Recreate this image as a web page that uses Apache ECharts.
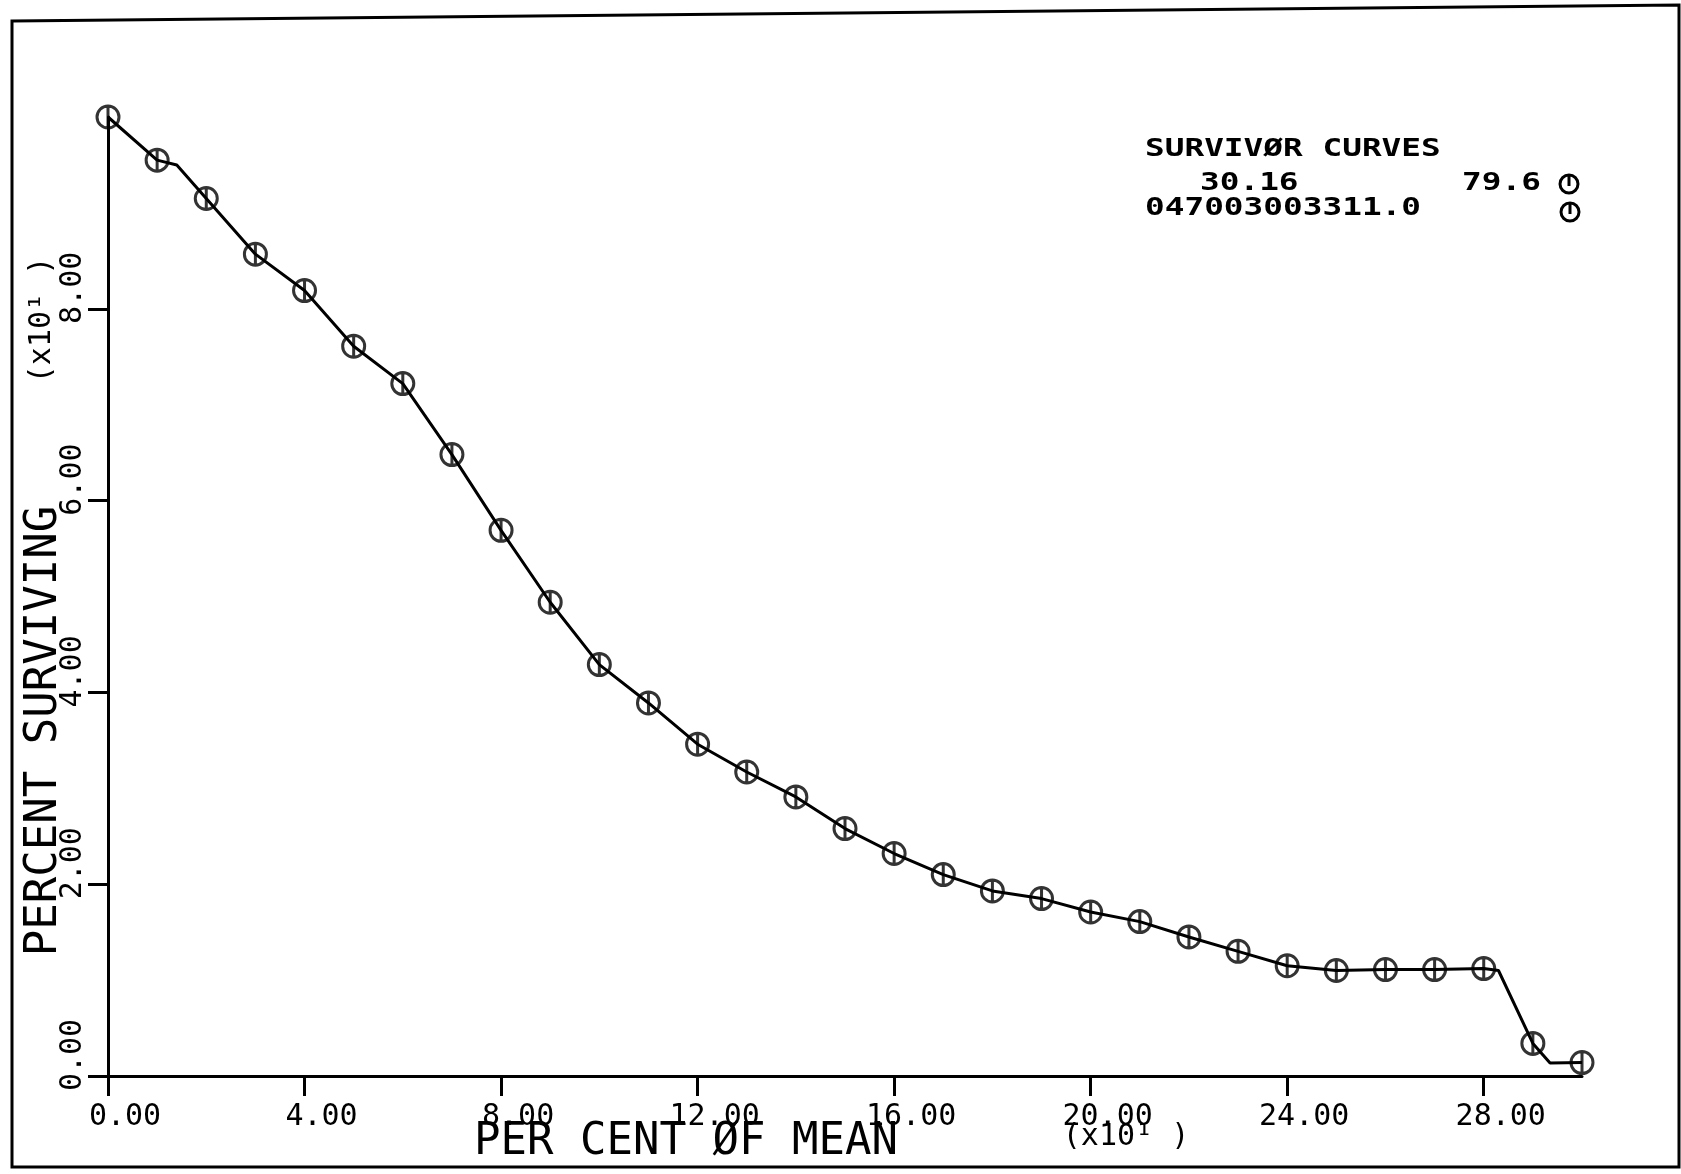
<!DOCTYPE html>
<html>
<head>
<meta charset="utf-8">
<title>SURVIVOR CURVES</title>
<style>
html, body { margin: 0; padding: 0; background: #fff; }
#main { width: 1681px; height: 1174px; }
</style>
<script src="https://cdn.jsdelivr.net/npm/echarts@6/dist/echarts.min.js"></script>
</head>
<body>
<div id="main"></div>
<script>
// data
// x = per cent of mean (axis labels are x10^1), y = percent surviving
var percentOfMean = [0, 10, 20, 30, 40, 50, 60, 70, 80, 90, 100, 110, 120, 130, 140, 150,
    160, 170, 180, 190, 200, 210, 220, 230, 240, 250, 260, 270, 280, 290, 300];
var percentSurviving = [100, 95.5, 91.5, 85.7, 81.9, 76.1, 72.2, 64.8, 56.9, 49.4, 42.9, 38.9,
    34.6, 31.7, 29.1, 25.8, 23.2, 21.0, 19.3, 18.5, 17.1, 16.1, 14.5, 13.0, 11.5, 11.0, 11.1,
    11.1, 11.2, 3.4, 1.4];
// bends of the drawn curve that have no marker
var bendX = [14, 283, 293.5];
var bendY = [95.0, 11.0, 1.35];
// ticks
var xTicks = [0, 40, 80, 120, 160, 200, 240, 280];
var yTicks = [0, 20, 40, 60, 80];
// legend block
var legendTitle = 'SURVIVØR CURVES';
var legendRow1 = ['30.16', '79.6'];
var legendRow2 = ['047003003311.0'];

(function() {
    var mono = '"DejaVu Sans Mono", "Liberation Mono", monospace';
    var ink = '#000';

    // markers
    var markers = [];
    for (var i = 0; i < percentOfMean.length; i++) {
        markers.push([percentOfMean[i], percentSurviving[i]]);
    }
    // curve = markers + bends, in x order
    var curve = markers.slice();
    for (var j = 0; j < bendX.length; j++) {
        curve.push([bendX[j], bendY[j]]);
    }
    curve.sort(function(a, b) { return a[0] - b[0]; });

    var tickLabel = function(v) {
        return (v / 10).toFixed(2);
    };

    var ringPath = 'path://M12,1A11,11,0,0,1,12,23A11,11,0,0,1,12,1ZM12,1L12,23';

    // legend symbol: ring with a bar
    var legendMark = function(cx, cy) {
        return {
            type: 'group',
            children: [{
                type: 'circle',
                shape: { cx: cx, cy: cy, r: 9 },
                style: { fill: 'none', stroke: ink, lineWidth: 3 }
            }, {
                type: 'line',
                shape: { x1: cx, y1: cy - 9, x2: cx, y2: cy + 2 },
                style: { stroke: ink, lineWidth: 3 }
            }]
        };
    };

    var legendText = function(text, x, y) {
        return {
            type: 'text',
            x: x,
            y: y,
            scaleX: 1.31,
            style: {
                text: text,
                font: 'bold 25px ' + mono,
                fill: ink,
                textVerticalAlign: 'top'
            }
        };
    };

    var option = {
        animation: false,
        backgroundColor: '#fff',
        grid: {
            left: 108,
            right: 99,
            top: 117,
            bottom: 98,
            containLabel: false
        },
        xAxis: {
            type: 'value',
            min: 0,
            max: 300,
            axisLine: { show: true, onZero: false, lineStyle: { color: ink, width: 3 } },
            axisTick: {
                show: true,
                customValues: xTicks,
                length: 20,
                lineStyle: { color: ink, width: 3 }
            },
            axisLabel: {
                customValues: xTicks,
                formatter: tickLabel,
                margin: 26,
                color: ink,
                fontFamily: mono,
                fontSize: 30,
                padding: [0, 0, 0, 34]
            },
            splitLine: { show: false }
        },
        yAxis: {
            type: 'value',
            min: 0,
            max: 100,
            axisLine: { show: true, onZero: false, lineStyle: { color: ink, width: 3 } },
            axisTick: {
                show: true,
                customValues: yTicks,
                length: 20,
                lineStyle: { color: ink, width: 3 }
            },
            axisLabel: {
                customValues: yTicks,
                formatter: tickLabel,
                rotate: 90,
                margin: 20,
                color: ink,
                fontFamily: mono,
                fontSize: 30,
                padding: [0, 0, 0, 42]
            },
            splitLine: { show: false }
        },
        series: [{
            name: 'curve',
            type: 'line',
            data: curve,
            symbol: 'none',
            lineStyle: { color: ink, width: 3 },
            z: 2
        }, {
            name: 'markers',
            type: 'scatter',
            data: markers,
            symbol: ringPath,
            symbolSize: 22,
            itemStyle: { color: 'rgba(0,0,0,0)', borderColor: ink, borderWidth: 3 },
            z: 3
        }],
        graphic: [
            // frame
            {
                type: 'polygon',
                shape: { points: [[12, 21], [1679, 5], [1679, 1167], [12, 1167]] },
                style: { fill: 'none', stroke: ink, lineWidth: 3 }
            },
            // axis names
            {
                type: 'text',
                x: 686,
                y: 1143,
                style: {
                    text: 'PER CENT ØF MEAN',
                    font: '44px ' + mono,
                    fill: ink,
                    textAlign: 'center',
                    textVerticalAlign: 'middle'
                }
            },
            {
                type: 'text',
                x: 1126,
                y: 1137,
                style: {
                    text: '(x10¹ )',
                    font: '30px ' + mono,
                    fill: ink,
                    textAlign: 'center',
                    textVerticalAlign: 'middle'
                }
            },
            {
                type: 'text',
                x: 45,
                y: 731,
                rotation: Math.PI / 2,
                style: {
                    text: 'PERCENT SURVIVING',
                    font: '44px ' + mono,
                    fill: ink,
                    textAlign: 'center',
                    textVerticalAlign: 'middle'
                }
            },
            {
                type: 'text',
                x: 42,
                y: 320,
                rotation: Math.PI / 2,
                style: {
                    text: '(x10¹ )',
                    font: '30px ' + mono,
                    fill: ink,
                    textAlign: 'center',
                    textVerticalAlign: 'middle'
                }
            },
            // legend block
            legendText(legendTitle, 1145, 137),
            legendText(legendRow1[0], 1200, 171),
            legendText(legendRow1[1], 1462, 171),
            legendMark(1569, 184),
            legendText(legendRow2[0], 1145, 196),
            legendMark(1570, 212)
        ]
    };

    var myechart = echarts.init(document.getElementById('main'));
    myechart.setOption(option);
})();
</script>
</body>
</html>
